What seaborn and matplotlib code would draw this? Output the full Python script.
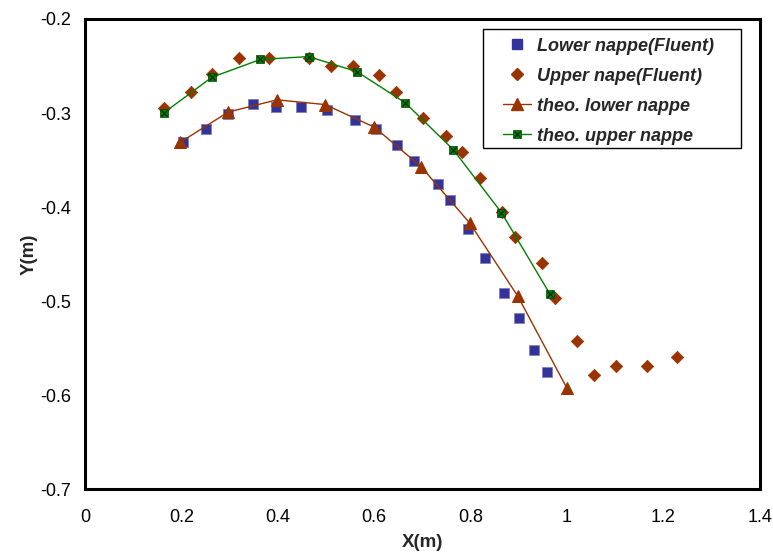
import matplotlib
matplotlib.use("Agg")
import matplotlib.pyplot as plt
from matplotlib.lines import Line2D
from matplotlib.patches import Rectangle
from matplotlib.legend_handler import HandlerTuple
import seaborn as sns
import pandas as pd

# ---- data ----
lower_fluent_x = [0.203, 0.250, 0.297, 0.349, 0.397, 0.448, 0.503, 0.560, 0.604, 0.648,
                  0.683, 0.733, 0.758, 0.795, 0.829, 0.870, 0.901, 0.931, 0.958]
lower_fluent_y = [-0.331, -0.317, -0.301, -0.290, -0.294, -0.294, -0.297, -0.307, -0.317, -0.334,
                  -0.351, -0.375, -0.392, -0.423, -0.454, -0.491, -0.518, -0.552, -0.576]

upper_fluent_x = [0.163, 0.219, 0.264, 0.319, 0.382, 0.464, 0.510, 0.556, 0.609, 0.646,
                  0.702, 0.749, 0.783, 0.820, 0.865, 0.892, 0.947, 0.974, 1.020, 1.056,
                  1.102, 1.166, 1.229]
upper_fluent_y = [-0.295, -0.278, -0.259, -0.241, -0.241, -0.242, -0.250, -0.250, -0.260, -0.278,
                  -0.305, -0.324, -0.342, -0.369, -0.405, -0.432, -0.460, -0.497, -0.542, -0.579,
                  -0.569, -0.569, -0.560]

theo_lower_x = [0.198, 0.297, 0.398, 0.498, 0.600, 0.697, 0.798, 0.898, 0.999]
theo_lower_y = [-0.331, -0.299, -0.286, -0.291, -0.315, -0.357, -0.417, -0.495, -0.592]

theo_upper_x = [0.163, 0.263, 0.364, 0.464, 0.564, 0.664, 0.764, 0.864, 0.965]
theo_upper_y = [-0.300, -0.262, -0.243, -0.240, -0.256, -0.289, -0.339, -0.406, -0.493]

x_ticks = [0, 0.2, 0.4, 0.6, 0.8, 1, 1.2, 1.4]
x_tick_labels = ["0", "0.2", "0.4", "0.6", "0.8", "1", "1.2", "1.4"]
y_ticks = [-0.7, -0.6, -0.5, -0.4, -0.3, -0.2]
y_tick_labels = ["-0.7", "-0.6", "-0.5", "-0.4", "-0.3", "-0.2"]

labels = ["Lower nappe(Fluent)", "Upper nape(Fluent)", "theo. lower nappe", "theo. upper nappe"]

# ---- style ----
sns.set_theme(style="white")
plt.rcParams["font.family"] = ["Liberation Sans", "DejaVu Sans"]

BLUE = "#333399"
BROWN = "#993300"
GREEN = "#008000"

df_lf = pd.DataFrame({"x": lower_fluent_x, "y": lower_fluent_y})
df_uf = pd.DataFrame({"x": upper_fluent_x, "y": upper_fluent_y})
df_tl = pd.DataFrame({"x": theo_lower_x, "y": theo_lower_y})
df_tu = pd.DataFrame({"x": theo_upper_x, "y": theo_upper_y})

fig = plt.figure(figsize=(7.73, 5.52), dpi=100)
ax = fig.add_axes([0.110, 0.114, 0.873, 0.8516])

sns.scatterplot(data=df_lf, x="x", y="y", ax=ax, marker="s", s=55,
                color=BLUE, edgecolor="#8080c0", linewidth=0.6, zorder=2)
sns.scatterplot(data=df_uf, x="x", y="y", ax=ax, marker="D", s=40,
                color=BROWN, edgecolor=BROWN, linewidth=0.5, zorder=2)
sns.lineplot(data=df_tu, x="x", y="y", sort=False, estimator=None, ax=ax,
             color=GREEN, linewidth=1.0, marker="s", markersize=5.5,
             markerfacecolor=GREEN, markeredgecolor="#004000", markeredgewidth=0.5, zorder=3)
ax.plot(df_tu["x"], df_tu["y"], linestyle="none", marker="x", markersize=4.5,
        color="#002200", markeredgewidth=0.8, zorder=4)
sns.lineplot(data=df_tl, x="x", y="y", sort=False, estimator=None, ax=ax,
             color=BROWN, linewidth=1.0, marker="^", markersize=8.5,
             markerfacecolor=BROWN, markeredgecolor=BROWN, zorder=3)

ax.set_xlim(0, 1.4)
ax.set_ylim(-0.7, -0.2)
ax.set_xticks(x_ticks)
ax.set_xticklabels(x_tick_labels)
ax.set_yticks(y_ticks)
ax.set_yticklabels(y_tick_labels)
ax.tick_params(axis="x", length=0, labelsize=13, pad=14, colors="black")
ax.tick_params(axis="y", length=0, labelsize=13, pad=10, colors="black")
ax.set_xlabel("X(m)", fontsize=13.5, fontweight="bold", labelpad=6)
ax.set_ylabel("Y(m)", fontsize=13.5, fontweight="bold", labelpad=2)
for sp in ax.spines.values():
    sp.set_visible(True)
    sp.set_color("black")
    sp.set_linewidth(2.2)
ax.grid(False)

# legend frame drawn separately to match the wide side margins of the reference
ax.add_patch(Rectangle((0.5896, 0.7255), 0.9719 - 0.5896, 0.9787 - 0.7255,
                       transform=ax.transAxes, facecolor="white", edgecolor="black",
                       linewidth=1.0, zorder=5))

h_lf = Line2D([], [], linestyle="none", marker="s", markersize=7, color=BLUE)
h_uf = Line2D([], [], linestyle="none", marker="D", markersize=6, color=BROWN)
h_tl = Line2D([], [], color=BROWN, linewidth=1.0, marker="^", markersize=8.5)
h_tu1 = Line2D([], [], color=GREEN, linewidth=1.0, marker="s", markersize=5.5,
               markeredgecolor="#004000", markeredgewidth=0.5)
h_tu2 = Line2D([], [], linestyle="none", marker="x", markersize=4.5, color="#002200",
               markeredgewidth=0.8)
leg = ax.legend([h_lf, h_uf, h_tl, (h_tu1, h_tu2)], labels,
                handler_map={tuple: HandlerTuple(ndivide=1, pad=0)},
                loc="upper left", bbox_to_anchor=(0.620, 0.960),
                frameon=False,
                prop={"size": 13, "weight": "bold", "style": "italic"},
                handlelength=1.55, handletextpad=0.3, labelspacing=0.72,
                borderpad=0, borderaxespad=0)
leg.set_zorder(6)

fig.savefig("out.png", dpi=100)
